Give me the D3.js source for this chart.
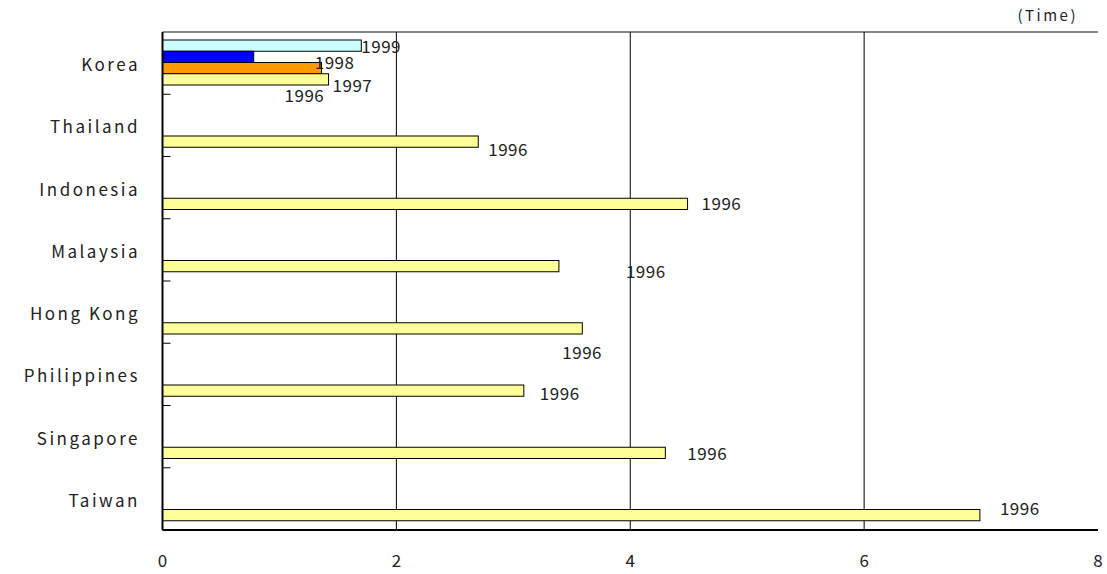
<!DOCTYPE html>
<html><head><meta charset="utf-8">
<script src="https://cdn.jsdelivr.net/npm/d3@7"></script>
<style>body{margin:0;background:#fff}text{font-family:"Noto Sans CJK KR","DejaVu Sans",sans-serif;fill:#222}</style>
</head><body><svg id="c" width="1107" height="574"></svg>
<script>
var countries = ["Korea","Thailand","Indonesia","Malaysia","Hong Kong","Philippines","Singapore","Taiwan"];
var years = ["1999","1998","1997","1996"];
var colors = {"1999":"#ccffff","1998":"#0000ff","1997":"#ff9900","1996":"#ffff99"};
var koreaValues = [1.70, 0.78, 1.36, 1.42];
var values1996 = [2.70, 4.49, 3.39, 3.59, 3.09, 4.30, 6.99];
var xTicks = [0, 2, 4, 6, 8];
// label nudges (Excel-like placement)
var koreaLabelOff = [[0,1],[61,6],[11,18],[-44,17]];
var labelOff = [[10,8],[14,0],[67,6],[-20,25],[16,3],[22,1],[20,-6]];

var svg = d3.select("#c");
var L = 162.5, R = 1098, T = 32, B = 530;
var x = d3.scaleLinear().domain([0, 8]).range([L, R]);
var y = d3.scaleBand().domain(countries).range([T, B]);
var sub = d3.scaleBand().domain(years).range([8, 53]);

svg.append("line").attr("x1", L).attr("x2", R).attr("y1", T).attr("y2", T).attr("stroke", "#888").attr("stroke-width", 2);
svg.selectAll(".grid").data([2, 4, 6]).enter().append("line")
  .attr("x1", d => x(d)).attr("x2", d => x(d)).attr("y1", T).attr("y2", B).attr("stroke", "#000");

var bars = [];
years.forEach((yr, i) => bars.push({c: "Korea", yr: yr, v: koreaValues[i], off: koreaLabelOff[i]}));
countries.slice(1).forEach((c, i) => bars.push({c: c, yr: "1996", v: values1996[i], off: labelOff[i]}));

svg.selectAll(".bar").data(bars).enter().append("rect")
  .attr("x", L).attr("y", d => y(d.c) + sub(d.yr))
  .attr("width", d => x(d.v) - L).attr("height", sub.bandwidth())
  .attr("fill", d => colors[d.yr]).attr("stroke", "#000").attr("stroke-width", 1);

svg.selectAll(".lbl").data(bars).enter().append("text")
  .attr("x", d => x(d.v) + d.off[0])
  .attr("y", d => y(d.c) + sub(d.yr) + sub.bandwidth() / 2 + d.off[1])
  .attr("dy", "0.35em").attr("font-size", 17).attr("letter-spacing", 0.5).text(d => d.yr);

svg.append("line").attr("x1", L).attr("x2", L).attr("y1", T).attr("y2", B).attr("stroke", "#000").attr("stroke-width", 2);
svg.append("line").attr("x1", L).attr("x2", R).attr("y1", B).attr("y2", B).attr("stroke", "#000").attr("stroke-width", 2);
svg.selectAll(".tk").data(countries).enter().append("line")
  .attr("x1", L).attr("x2", L + 8).attr("y1", d => y(d) + y.bandwidth()).attr("y2", d => y(d) + y.bandwidth())
  .attr("stroke", "#000");

svg.selectAll(".cat").data(countries).enter().append("text")
  .attr("x", 140).attr("y", d => y(d) + y.bandwidth() / 2 + 2).attr("dy", "0.35em")
  .attr("text-anchor", "end").attr("font-size", 17).attr("letter-spacing", 2.5).text(d => d);

svg.selectAll(".xt").data(xTicks).enter().append("text")
  .attr("x", d => x(d)).attr("y", 561).attr("dy", "0.35em")
  .attr("text-anchor", "middle").attr("font-size", 17).text(d => d);

svg.append("text").attr("x", 1078).attr("y", 21).attr("text-anchor", "end")
  .attr("font-size", 15).attr("letter-spacing", 2.5).text("(Time)");
</script></body></html>
